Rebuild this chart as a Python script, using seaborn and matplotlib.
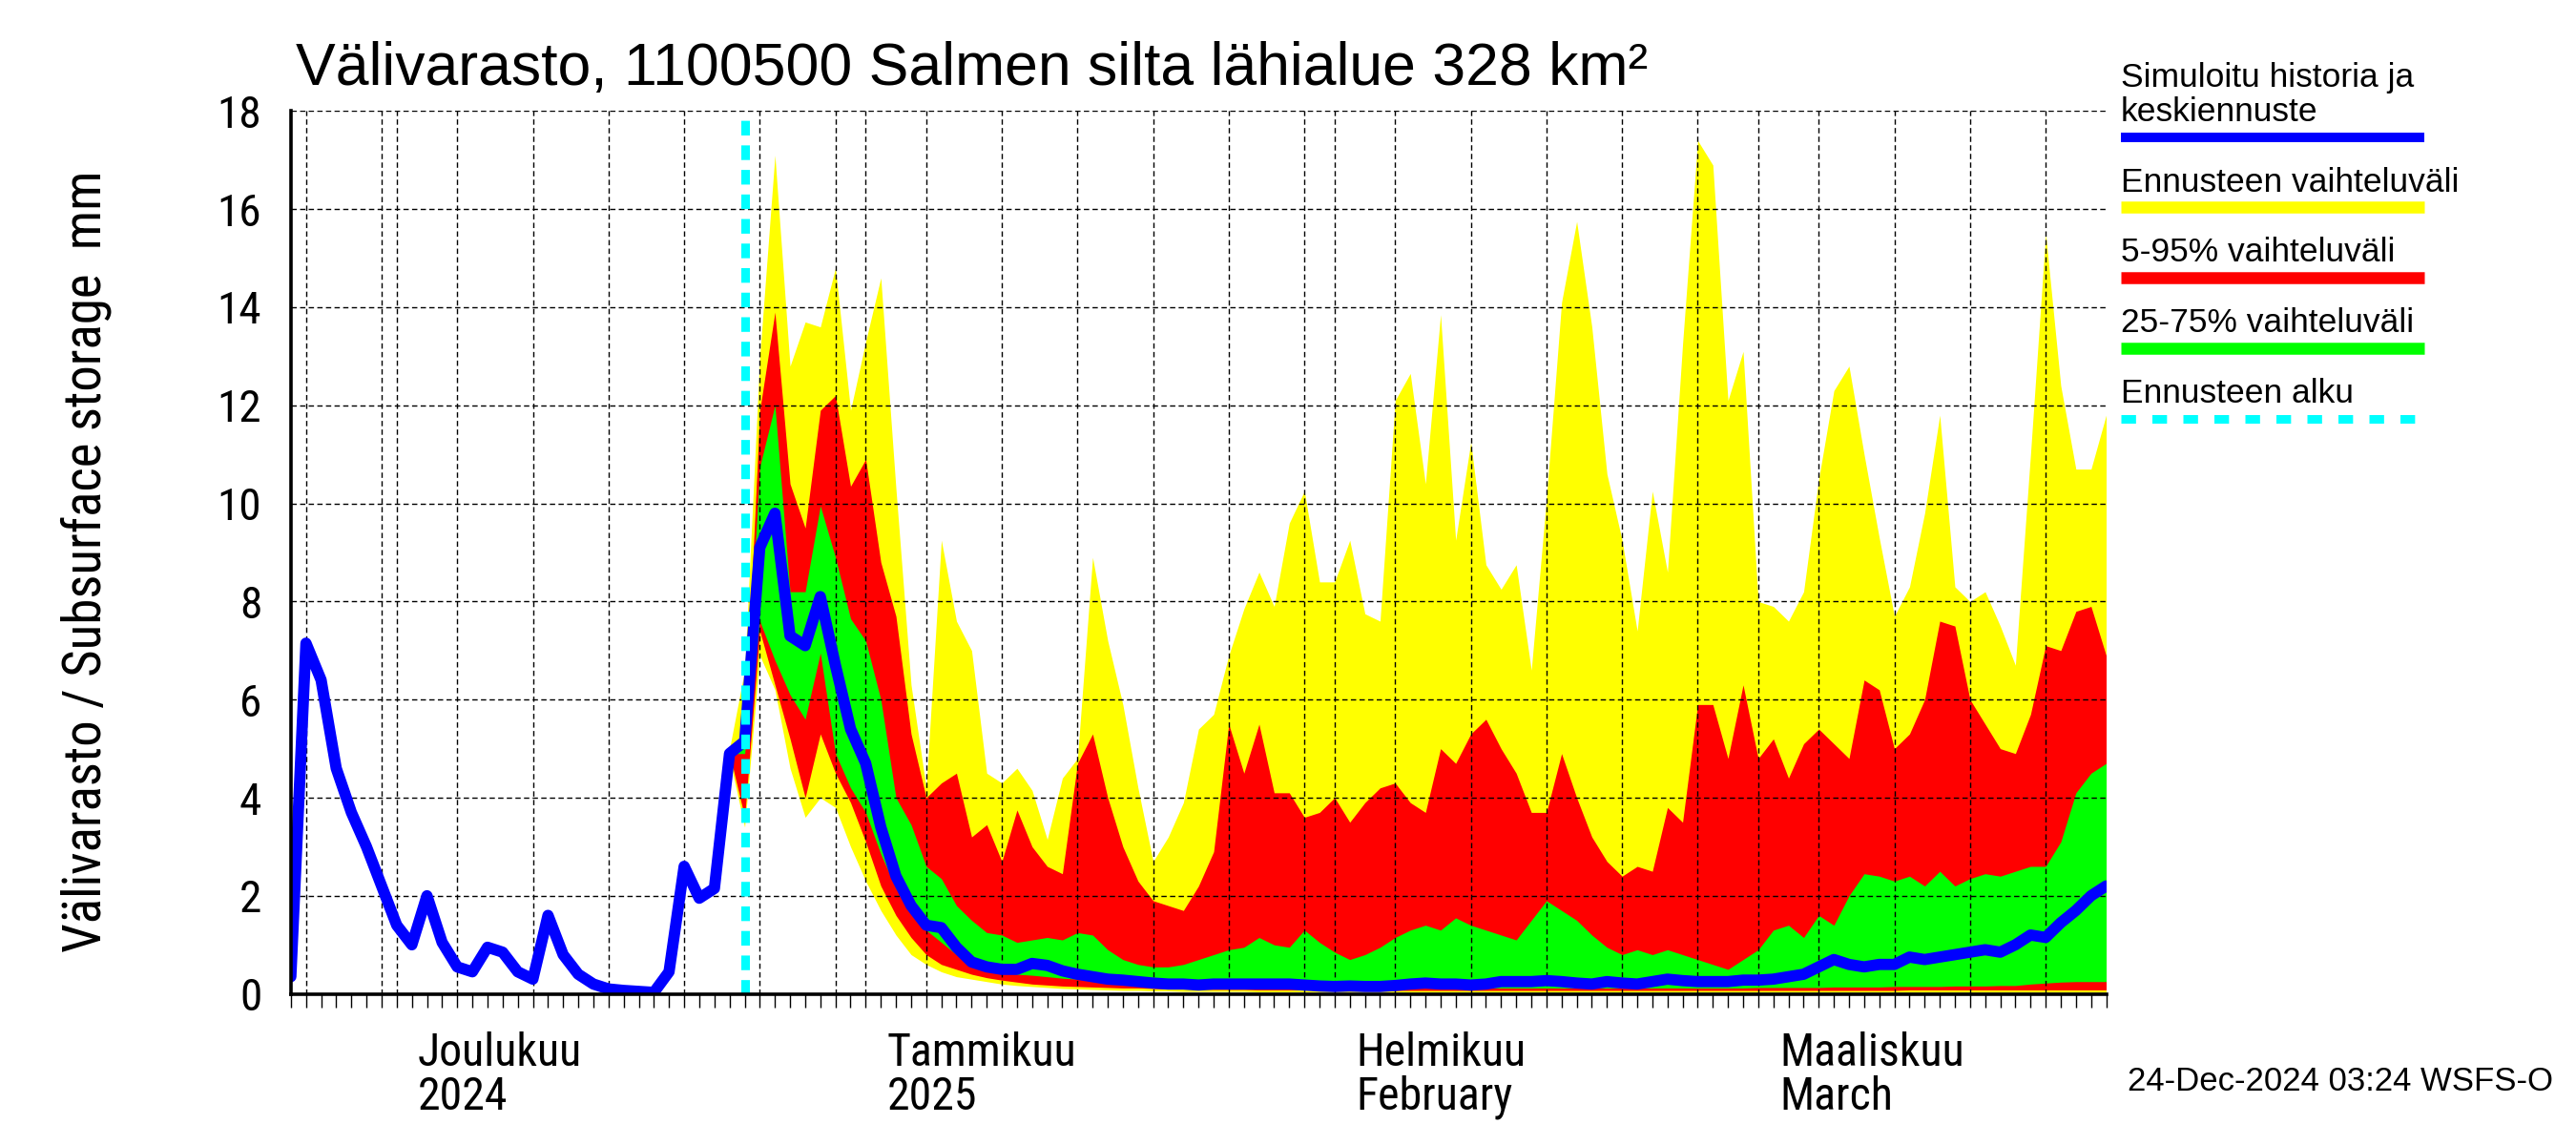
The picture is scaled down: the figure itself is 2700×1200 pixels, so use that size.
import numpy as np
import pandas as pd
import matplotlib
matplotlib.use("Agg")
import matplotlib.pyplot as plt
import matplotlib.dates as mdates
import matplotlib.transforms as mtransforms
from matplotlib import font_manager
from matplotlib.lines import Line2D
import seaborn as sns

# daily values, simulated history from 24 Nov 2024, forecast from 24 Dec 2024
start_day = "2024-11-24"
band_day = "2024-12-23"
forecast_day = "2024-12-24"

median = [
    0.35, 7.15, 6.4, 4.6, 3.7, 3.0, 2.2, 1.4, 1.0, 2.0,
    1.05, 0.55, 0.45, 0.95, 0.85, 0.45, 0.3, 1.6, 0.8, 0.4,
    0.2, 0.1, 0.07, 0.05, 0.03, 0.45, 2.6, 1.95, 2.15, 4.9,
    5.15, 9.1, 9.8, 7.3, 7.1, 8.1, 6.7, 5.4, 4.7, 3.4,
    2.4, 1.8, 1.4, 1.35, 0.95, 0.65, 0.55, 0.5, 0.5, 0.62,
    0.58, 0.47, 0.4, 0.35, 0.3, 0.28, 0.25, 0.22, 0.2, 0.2,
    0.18, 0.2, 0.2, 0.2, 0.2, 0.2, 0.2, 0.18, 0.16, 0.15,
    0.16, 0.15, 0.15, 0.17, 0.2, 0.22, 0.2, 0.2, 0.18, 0.2,
    0.25, 0.25, 0.25, 0.27, 0.25, 0.22, 0.2, 0.25, 0.22, 0.2,
    0.25, 0.3, 0.27, 0.25, 0.25, 0.25, 0.28, 0.28, 0.3, 0.35,
    0.4, 0.55, 0.7, 0.6, 0.55, 0.6, 0.6, 0.75, 0.7, 0.75,
    0.8, 0.85, 0.9, 0.85, 1.0, 1.2, 1.15, 1.45, 1.7, 2.0,
    2.2,
]

# forecast bands from 23 Dec 2024
yellow_hi = [
    5.0,
    6.6, 13.0, 17.1, 12.8, 13.7, 13.6, 14.8, 11.9, 13.3, 14.6,
    10.3, 6.3, 4.2, 9.25, 7.6, 7.0, 4.5, 4.3, 4.6, 4.15,
    3.15, 4.4, 4.8, 8.9, 7.2, 5.9, 4.2, 2.7, 3.2, 3.9,
    5.4, 5.7, 6.9, 7.85, 8.6, 7.9, 9.6, 10.25, 8.4, 8.4,
    9.25, 7.75, 7.6, 12.1, 12.65, 10.4, 13.85, 9.25, 11.25, 8.75,
    8.25, 8.75, 6.6, 10.1, 14.1, 15.75, 13.6, 10.6, 9.25, 7.4,
    10.25, 8.6, 13.25, 17.4, 16.9, 12.1, 13.1, 8.0, 7.9, 7.6,
    8.2, 10.5, 12.3, 12.8, 11.0, 9.3, 7.7, 8.3, 9.8, 11.8,
    8.3, 8.0, 8.2, 7.5, 6.7, 11.0, 15.5, 12.4, 10.7, 10.7,
    11.8,
]
red_hi = [
    5.0,
    5.3, 11.9, 13.9, 10.4, 9.5, 11.9, 12.2, 10.35, 10.9, 8.8,
    7.7, 5.3, 4.0, 4.3, 4.5, 3.2, 3.45, 2.7, 3.75, 3.0,
    2.6, 2.45, 4.7, 5.3, 4.0, 3.0, 2.3, 1.9, 1.8, 1.7,
    2.2, 2.9, 5.5, 4.5, 5.5, 4.1, 4.1, 3.6, 3.7, 4.0,
    3.5, 3.9, 4.2, 4.3, 3.9, 3.7, 5.0, 4.7, 5.3, 5.6,
    5.0, 4.5, 3.7, 3.7, 4.9, 4.0, 3.2, 2.7, 2.4, 2.6,
    2.5, 3.8, 3.5, 5.9, 5.9, 4.8, 6.3, 4.8, 5.2, 4.4,
    5.1, 5.4, 5.1, 4.8, 6.4, 6.2, 5.0, 5.3, 6.0, 7.6,
    7.5, 6.0, 5.5, 5.0, 4.9, 5.7, 7.1, 7.0, 7.8, 7.9,
    6.9,
]
green_hi = [
    4.9,
    5.3, 10.75, 12.0, 8.2, 8.2, 9.95, 8.9, 7.65, 7.2, 6.0,
    4.0, 3.45, 2.6, 2.35, 1.8, 1.5, 1.25, 1.2, 1.05, 1.1,
    1.15, 1.1, 1.25, 1.2, 0.9, 0.7, 0.6, 0.55, 0.55, 0.6,
    0.7, 0.8, 0.9, 0.95, 1.15, 1.0, 0.95, 1.3, 1.05, 0.85,
    0.7, 0.8, 0.95, 1.15, 1.3, 1.4, 1.3, 1.55, 1.4, 1.3,
    1.2, 1.1, 1.5, 1.9, 1.7, 1.5, 1.2, 0.95, 0.8, 0.9,
    0.8, 0.9, 0.8, 0.7, 0.6, 0.5, 0.7, 0.9, 1.3, 1.4,
    1.15, 1.6, 1.4, 2.0, 2.45, 2.4, 2.3, 2.4, 2.2, 2.5,
    2.2, 2.35, 2.45, 2.4, 2.5, 2.6, 2.6, 3.1, 4.1, 4.5,
    4.7,
]
green_lo = [
    4.9,
    4.9, 7.6, 6.8, 6.1, 5.6, 6.95, 4.9, 4.2, 3.7, 2.85,
    2.15, 1.65, 1.3, 1.05, 0.8, 0.65, 0.55, 0.45, 0.4, 0.38,
    0.35, 0.32, 0.3, 0.28, 0.26, 0.25, 0.24, 0.22, 0.2, 0.2,
    0.19, 0.18, 0.18, 0.17, 0.17, 0.16, 0.16, 0.15, 0.15, 0.14,
    0.14, 0.14, 0.13, 0.13, 0.13, 0.13, 0.12, 0.12, 0.12, 0.12,
    0.12, 0.12, 0.12, 0.12, 0.12, 0.12, 0.12, 0.12, 0.12, 0.12,
    0.12, 0.12, 0.12, 0.12, 0.12, 0.12, 0.12, 0.13, 0.13, 0.13,
    0.13, 0.13, 0.14, 0.14, 0.14, 0.14, 0.15, 0.15, 0.15, 0.15,
    0.16, 0.16, 0.16, 0.17, 0.17, 0.2, 0.22, 0.24, 0.25, 0.25,
    0.25,
]
red_lo = [
    4.9,
    3.6, 7.4, 6.3, 5.2, 4.0, 5.3, 4.5, 3.9, 3.1, 2.2,
    1.6, 1.15, 0.8, 0.6, 0.5, 0.4, 0.33, 0.28, 0.24, 0.2,
    0.18, 0.16, 0.15, 0.14, 0.13, 0.12, 0.12, 0.11, 0.1, 0.1,
    0.1, 0.09, 0.09, 0.09, 0.08, 0.08, 0.08, 0.08, 0.08, 0.07,
    0.07, 0.07, 0.07, 0.07, 0.07, 0.07, 0.07, 0.07, 0.07, 0.07,
    0.07, 0.07, 0.07, 0.07, 0.07, 0.07, 0.07, 0.07, 0.07, 0.07,
    0.07, 0.07, 0.07, 0.07, 0.07, 0.07, 0.07, 0.07, 0.07, 0.07,
    0.07, 0.07, 0.07, 0.07, 0.07, 0.07, 0.07, 0.08, 0.08, 0.08,
    0.08, 0.08, 0.08, 0.08, 0.08, 0.08, 0.08, 0.08, 0.08, 0.08,
    0.08,
]
yellow_lo = [
    4.8,
    3.4, 6.9, 6.2, 4.6, 3.6, 4.0, 3.8, 3.0, 2.3, 1.7,
    1.2, 0.8, 0.6, 0.45, 0.35, 0.3, 0.25, 0.2, 0.17, 0.15,
    0.13, 0.11, 0.1, 0.09, 0.08, 0.07, 0.07, 0.06, 0.06, 0.05,
    0.05, 0.05, 0.05, 0.05, 0.04, 0.04, 0.04, 0.04, 0.04, 0.04,
    0.04, 0.04, 0.04, 0.03, 0.03, 0.03, 0.03, 0.03, 0.03, 0.03,
    0.03, 0.03, 0.03, 0.03, 0.03, 0.03, 0.03, 0.03, 0.03, 0.03,
    0.03, 0.03, 0.03, 0.03, 0.03, 0.03, 0.03, 0.03, 0.03, 0.03,
    0.03, 0.03, 0.03, 0.03, 0.03, 0.03, 0.03, 0.03, 0.03, 0.03,
    0.03, 0.03, 0.03, 0.03, 0.03, 0.03, 0.03, 0.03, 0.03, 0.03,
    0.03,
]

y_ticks = [0, 2, 4, 6, 8, 10, 12, 14, 16, 18]
month_ticks = ["2024-12-01", "2025-01-01", "2025-02-01", "2025-03-01"]
month_names = ["Joulukuu", "Tammikuu", "Helmikuu", "Maaliskuu"]
month_sub = ["2024", "2025", "February", "March"]

title = "Välivarasto, 1100500 Salmen silta lähialue 328 km²"
ylabel = "Välivarasto / Subsurface storage  mm"
stamp = "24-Dec-2024 03:24 WSFS-O"
legend_labels = ["Simuloitu historia ja\nkeskiennuste", "Ennusteen vaihteluväli",
                 "5-95% vaihteluväli", "25-75% vaihteluväli", "Ennusteen alku"]

BLUE, YELLOW, RED, GREEN, CYAN = "#0000FF", "#FFFF00", "#FF0000", "#00FF00", "#00FFFF"

sns.set_style("white")
regular = ["Liberation Sans", "DejaVu Sans"]
installed = {f.name for f in font_manager.fontManager.ttflist}
narrow_name = None
for cand in ["Liberation Sans Narrow", "Arial Narrow", "Roboto Condensed",
             "Open Sans Condensed", "Noto Sans Condensed"]:
    if cand in installed:
        narrow_name = cand
        break
if narrow_name is None:
    narrow = regular
    tick_size, month_size, ylab_size = 30, 31, 36
else:
    narrow = [narrow_name] + regular
    tick_size, month_size, ylab_size = 34, 34.5, 39.5
plt.rcParams["font.family"] = narrow
plt.rcParams["text.color"] = "black"
plt.rcParams["axes.labelcolor"] = "black"
plt.rcParams["xtick.color"] = "black"
plt.rcParams["ytick.color"] = "black"

days = pd.date_range(start_day, periods=len(median), freq="D")
hist = pd.DataFrame({"date": days, "value": median})
band_dates = pd.date_range(band_day, periods=len(yellow_hi), freq="D")
bands = pd.DataFrame({"date": band_dates, "y_lo": yellow_lo, "y_hi": yellow_hi,
                      "r_lo": red_lo, "r_hi": red_hi, "g_lo": green_lo, "g_hi": green_hi})

fig = plt.figure(figsize=(27, 12), dpi=100)
ax = fig.add_axes([0.1129, 0.132, 0.7047, 0.771])

ax.fill_between(bands["date"], bands["y_lo"], bands["y_hi"], color=YELLOW, lw=0, zorder=1)
ax.fill_between(bands["date"], bands["r_lo"], bands["r_hi"], color=RED, lw=0, zorder=1.1)
ax.fill_between(bands["date"], bands["g_lo"], bands["g_hi"], color=GREEN, lw=0, zorder=1.2)
sns.lineplot(data=hist, x="date", y="value", color=BLUE, linewidth=8.5, ax=ax,
             estimator=None, legend=False, zorder=3)
ax.axvline(pd.Timestamp(forecast_day), color=CYAN, lw=6.5, ls=(0, (1.7, 1.15)),
           ymax=0.99, zorder=4)

ax.set_xlim(days[0], days[-1])
ax.set_ylim(0, 18)
ax.set_xlabel("")
ax.set_ylabel("")

# axes: thick left/bottom, dashed grid on top of the bands
ax.set_axisbelow(False)
for side in ["top", "right"]:
    ax.spines[side].set_visible(False)
for side in ["left", "bottom"]:
    ax.spines[side].set_linewidth(2.6)
    ax.spines[side].set_color("black")
    ax.spines[side].set_zorder(5)

ax.set_yticks(y_ticks)
ax.tick_params(axis="y", direction="in", length=33, width=2, pad=22, labelsize=tick_size,
               colors="black")

grid_style = dict(color="black", linestyle=(0, (4, 2.5)), linewidth=1.0)
all_days = pd.date_range(days[0], days[-1], freq="D")
five_days = [d for d in all_days if d.day in (5, 10, 15, 20, 25)]
thirtieths = [d for d in all_days if d.day == 30]

ax.set_xticks(pd.to_datetime(month_ticks))
ax.set_xticks(five_days, minor=True)
ax.tick_params(axis="x", which="major", direction="out", length=76, width=1.2,
               labelbottom=False, colors="black")
ax.tick_params(axis="x", which="minor", direction="out", length=41, width=1,
               labelbottom=False, colors="black")
ax.grid(axis="y", which="major", **grid_style)
ax.grid(axis="x", which="both", **grid_style)
for d in thirtieths:
    ax.axvline(d, zorder=2.5, **grid_style)

sec = ax.secondary_xaxis("bottom")
sec.set_xticks(mdates.date2num(all_days))
sec.tick_params(axis="x", direction="out", length=10, width=1, labelbottom=False,
                colors="black")
sec.spines["bottom"].set_visible(False)

trans = mtransforms.blended_transform_factory(ax.transData, ax.transAxes)
trans = mtransforms.offset_copy(trans, fig=fig, x=16, y=0, units="points")
for m, name, sub in zip(month_ticks, month_names, month_sub):
    x = pd.Timestamp(m)
    ax.text(x, -0.081, name, transform=trans, ha="left", va="baseline", fontsize=month_size)
    ax.text(x, -0.131, sub, transform=trans, ha="left", va="baseline", fontsize=month_size)

fig.text(0.1148, 0.9257, title, ha="left", va="baseline", fontsize=45, family=regular)
fig.text(0.0335, 0.51, ylabel, rotation=90, ha="center", va="center", fontsize=ylab_size)
fig.text(0.991, 0.0475, stamp, ha="right", va="baseline", fontsize=25, family=regular)

# legend at the right, drawn by hand like the original
lx0, lx1 = 0.8233, 0.9411
text_y = [0.8942, 0.8328, 0.7717, 0.71, 0.6483]
bar_y = [0.88, 0.8192, 0.7575, 0.6958, 0.6342]
bar_colors = [BLUE, YELLOW, RED, GREEN, CYAN]
bar_widths = [7.2, 9, 9, 9, 6.5]
for lab, ty, by, c, w in zip(legend_labels, text_y, bar_y, bar_colors, bar_widths):
    fig.text(lx0, ty, lab, ha="left", va="baseline", fontsize=25.5, family=regular,
             linespacing=1.12)
    ls = (0, (1.7, 1.9)) if c == CYAN else "-"
    fig.add_artist(Line2D([lx0, lx1], [by, by], transform=fig.transFigure, color=c,
                          lw=w, ls=ls, solid_capstyle="butt", dash_capstyle="butt"))

fig.savefig("out.png", dpi=100)
